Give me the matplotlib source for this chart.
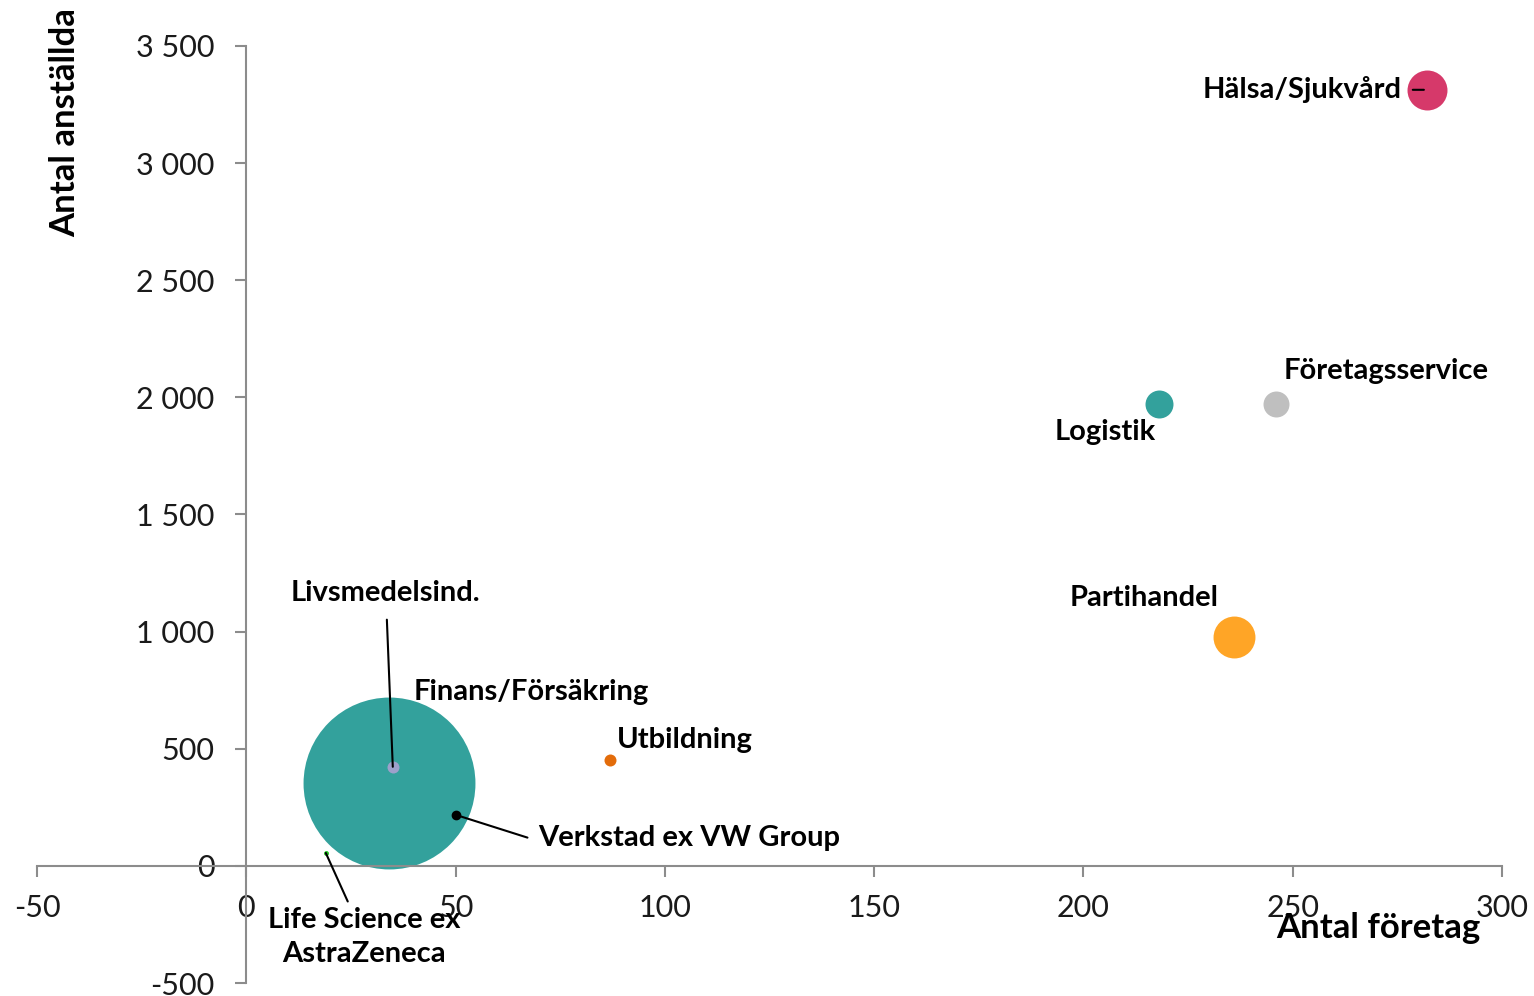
import matplotlib.pyplot as plt
from matplotlib.ticker import FuncFormatter, MultipleLocator

# bubble data: antal företag, antal anställda, bubble value
names = ["Hälsa/Sjukvård", "Företagsservice", "Logistik", "Partihandel",
         "Finans/Försäkring", "Verkstad ex VW Group", "Livsmedelsind.",
         "Utbildning", "Life Science ex\nAstraZeneca"]
foretag = [282, 246, 218, 236, 40, 34, 35, 87, 19]
anstallda = [3313, 1972, 1972, 978, 520, 354, 423, 452, 55]
bubble = [400, 169, 196, 440, 25, 7400, 36, 36, 6]
colors = ["#D6396A", "#BFBFBF", "#33A19C", "#FFA526", "#9DA0CB",
          "#33A19C", "#9DA0CB", "#E36C0A", "#22C522"]
zorders = [3, 3, 3, 3, 1, 2, 3, 3, 3]

# label layout: offset in px from point, ha, leader line
labels_layout = {
    "Hälsa/Sjukvård": dict(off=(-25, 0), ha="right", line=True),
    "Företagsservice": dict(off=(8, 33), ha="left", line=False),
    "Logistik": dict(off=(-3, -28), ha="right", line=False),
    "Partihandel": dict(off=(-90, 39), ha="center", line=False),
    "Finans/Försäkring": dict(off=(0, 52), ha="left", line=False),
    "Verkstad ex VW Group": dict(off=(150, -55), ha="left", line=True),
    "Livsmedelsind.": dict(off=(-7, 174), ha="center", line=True),
    "Utbildning": dict(off=(6, 20), ha="left", line=False),
    "Life Science ex\nAstraZeneca": dict(off=(38, -84), ha="center", line=True),
}

plt.rcParams['font.family'] = ['Lato', 'DejaVu Sans']
plt.rcParams['axes.unicode_minus'] = False

fig = plt.figure(figsize=(15.34, 9.96), dpi=100)
ax = fig.add_axes([37 / 1534, 13 / 996, 1465 / 1534, 937 / 996])
ax.set_xlim(-50, 300)
ax.set_ylim(-500, 3500)

px = 0.72  # points per pixel
for n, x, y, b, c, z in zip(names, foretag, anstallda, bubble, colors, zorders):
    ax.scatter(x, y, s=b * 2.07, color=c, zorder=z, linewidths=0)

for n, x, y in zip(names, foretag, anstallda):
    lay = labels_layout[n]
    dx, dy = lay["off"]
    arrow = None
    xy = (x, y)
    if lay["line"]:
        arrow = dict(arrowstyle="-", color="black", lw=1.5, shrinkA=2, shrinkB=0)
    if n == "Verkstad ex VW Group":
        xy = (50, 218)
        dx, dy = (538 - 455, 815 - 838)
        arrow["connectionstyle"] = "angle,angleA=0,angleB=-17.6,rad=0"
        arrow["shrinkA"] = 6
        ax.plot(*xy, "o", color="black", ms=6, zorder=5)
    if n == "Hälsa/Sjukvård":
        arrow["shrinkA"] = 6
        arrow["shrinkB"] = 2
    if n == "Livsmedelsind.":
        arrow["shrinkA"] = 8
    ax.annotate(n, xy=xy, xytext=(dx * px, dy * px), textcoords="offset points",
                ha=lay["ha"], va="center", fontsize=21, fontweight="bold",
                arrowprops=arrow, zorder=6, linespacing=1.4)

# axes crossing at zero
for s in ["top", "right"]:
    ax.spines[s].set_visible(False)
ax.spines["left"].set_position(("data", 0))
ax.spines["bottom"].set_position(("data", 0))
for s in ["left", "bottom"]:
    ax.spines[s].set_color("#8C8C8C")
    ax.spines[s].set_linewidth(1.5)

ax.xaxis.set_major_locator(MultipleLocator(50))
ax.yaxis.set_major_locator(MultipleLocator(500))
ax.yaxis.set_major_formatter(FuncFormatter(lambda v, p: f"{int(v):,}".replace(",", " ")))
ax.tick_params(direction="out", length=8, width=1.5, color="#8C8C8C",
               labelsize=22, labelcolor="#1A1A1A")
ax.tick_params(axis="y", pad=15)
ax.tick_params(axis="x", pad=12)

fig.text(65 / 1534, 1 - 123 / 996, "Antal anställda", rotation=90, ha="center",
         va="center", fontsize=25, fontweight="bold")
fig.text(1378 / 1534, 1 - 928 / 996, "Antal företag", ha="center",
         va="center", fontsize=25, fontweight="bold")

fig.savefig("out.png", dpi=100)
